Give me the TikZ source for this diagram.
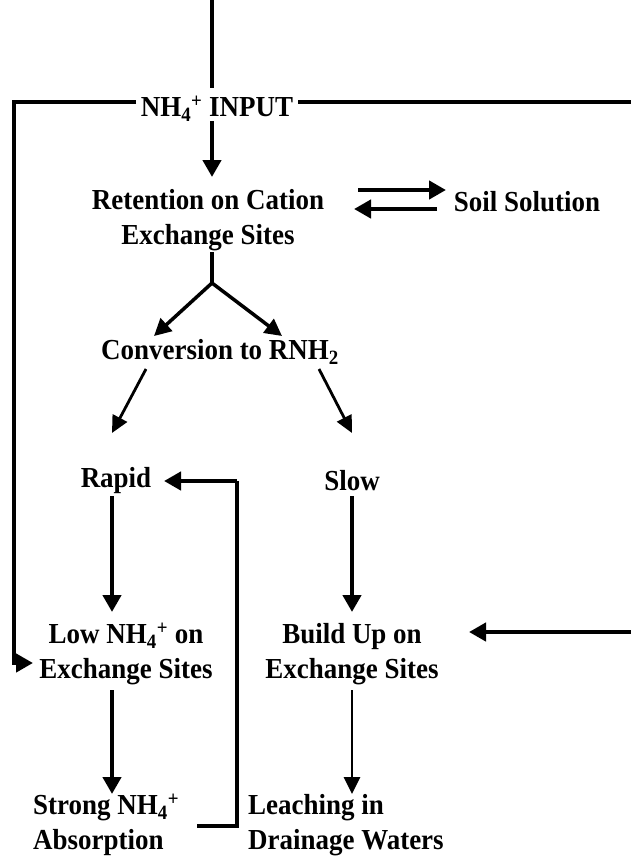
\documentclass[tikz,border=0pt]{standalone}
\usepackage{fontspec}
\setmainfont{Liberation Serif}[FakeStretch=0.93]
\usetikzlibrary{arrows.meta}
\newcommand{\nhfour}{NH\textsubscript{4}\textsuperscript{+}}
\begin{document}
\begin{tikzpicture}[x=1pt,y=-1pt,
  lbl/.style={font=\fontsize{29}{35}\selectfont\bfseries, align=center, inner sep=0pt},
  ln/.style={line width=4.5pt},
  arr/.style={line width=4.5pt, -{Triangle[length=17pt,width=18pt]}},
  midarr/.style={line width=3.5pt, -{Triangle[length=17pt,width=17pt]}},
  thinarr/.style={line width=2.8pt, -{Triangle[length=17pt,width=16pt]}}]
\useasboundingbox (0,0) rectangle (630,857);
% labels
\node[lbl] (inp) at (217,109) {\nhfour\ INPUT};
\node[lbl] (ret) at (208,220) {Retention on Cation\\Exchange Sites};
\node[lbl] (soil) at (527,202) {Soil Solution};
\node[lbl] (conv) at (220,352) {Conversion to RNH\textsubscript{2}};
\node[lbl] (rapid) at (116,481) {Rapid};
\node[lbl] (slow) at (352,481) {Slow};
\node[lbl] (low) at (126,654) {Low \nhfour\ on\\Exchange Sites};
\node[lbl] (build) at (352,654) {Build Up on\\Exchange Sites};
\node[lbl, align=left, anchor=west] (strong) at (33,825) {Strong \nhfour\\Absorption};
\node[lbl, align=left, anchor=west] (leach) at (248,825) {Leaching in\\Drainage Waters};
% free ends and junctions
\coordinate (topA) at (212,0);
\coordinate (topB) at (212,88);
\coordinate (lstart) at (136,102);
\coordinate (lcorner) at (14,102);
\coordinate (lbottom) at (14,663);
\coordinate (ltip) at (33,663);
\coordinate (rstart) at (298,102);
\coordinate (redge) at (632,102);
\coordinate (inpout) at (212,121);
\coordinate (rettip) at (212,177);
\coordinate (eqA) at (358,190);
\coordinate (eqB) at (446,190);
\coordinate (eqC) at (437,209);
\coordinate (eqD) at (354,209);
\coordinate (retout) at (212,252);
\coordinate (split) at (212,283);
\coordinate (spL) at (154,336);
\coordinate (spR) at (282,336);
\coordinate (cvL) at (146,369);
\coordinate (cvLtip) at (112,433);
\coordinate (cvR) at (319,369);
\coordinate (cvRtip) at (352,433);
\coordinate (loopA) at (197,826);
\coordinate (loopB) at (237,826);
\coordinate (loopC) at (237,481);
\coordinate (looptip) at (164,481);
\coordinate (rapout) at (112,496);
\coordinate (rapin) at (112,612);
\coordinate (slowout) at (352,496);
\coordinate (slowin) at (352,612);
\coordinate (redge2) at (632,632);
\coordinate (buildtip) at (469,632);
\coordinate (lowout) at (112,690);
\coordinate (strongtip) at (112,794);
\coordinate (buildout) at (352,690);
\coordinate (leachtip) at (352,794);
% connectors
\draw[ln] (topA) -- (topB);
\draw[arr] (lstart) -- (lcorner) -- (lbottom) -- (ltip);
\draw[ln] (rstart) -- (redge);
\draw[arr] (inpout) -- (rettip);
\draw[arr] (eqA) -- (eqB);
\draw[arr] (eqC) -- (eqD);
\draw[ln] (retout) -- (split);
\draw[midarr] (split) -- (spL);
\draw[midarr] (split) -- (spR);
\draw[thinarr] (cvL) -- (cvLtip);
\draw[thinarr] (cvR) -- (cvRtip);
\draw[ln] (loopA) -- (loopB) -- (loopC);
\draw[arr] (loopC) -- (looptip);
\draw[arr] (rapout) -- (rapin);
\draw[arr] (slowout) -- (slowin);
\draw[arr] (redge2) -- (buildtip);
\draw[arr] (lowout) -- (strongtip);
\draw[thinarr] (buildout) -- (leachtip);
\end{tikzpicture}
\end{document}
